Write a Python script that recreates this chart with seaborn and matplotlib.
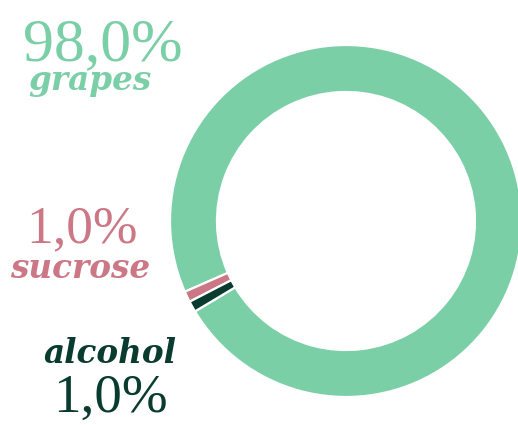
import matplotlib
matplotlib.use("Agg")
import matplotlib.pyplot as plt
import seaborn as sns

sns.set_theme(style="white")

# Composition shares (percent)
categories = ["grapes", "sucrose", "alcohol"]
shares = [98.0, 1.0, 1.0]
pct_labels = ["98,0%", "1,0%", "1,0%"]
colors = ["#7BCFA7", "#CC7785", "#093B2E"]

W, H = 518, 425
fig = plt.figure(figsize=(W / 100, H / 100), dpi=100)
fig.patch.set_facecolor("white")

# Donut axes: centre (346, 221) px, outer radius 176 px
cx, cy, r = 346, 221, 176
ax = fig.add_axes([(cx - r) / W, (H - cy - r) / H, 2 * r / W, 2 * r / H])

wedges, _ = ax.pie(
    shares,
    colors=colors,
    startangle=210.9,
    counterclock=True,
    radius=1.0,
    wedgeprops=dict(width=0.267, edgecolor="white", linewidth=1.6),
)
for w in wedges:
    w.set_clip_on(False)

ax.set_xlim(-1, 1)
ax.set_ylim(-1, 1)
ax.set_aspect("equal")
ax.axis("off")

num_font = dict(family="Liberation Serif", weight="normal")
word_font = dict(family="DejaVu Serif", weight="bold", style="italic")


def px(x, y):
    return x / W, 1 - y / H


# grapes
fig.text(*px(103, 60), pct_labels[0], ha="center", va="baseline",
         fontsize=44.5, color=colors[0], **num_font)
fig.text(*px(90, 90), categories[0], ha="center", va="baseline",
         fontsize=23.5, color=colors[0], **word_font)

# sucrose
fig.text(*px(82, 242), pct_labels[1], ha="center", va="baseline",
         fontsize=38.5, color=colors[1], **num_font)
fig.text(*px(80, 278), categories[1], ha="center", va="baseline",
         fontsize=23.5, color=colors[1], **word_font)

# alcohol
fig.text(*px(110, 363), categories[2], ha="center", va="baseline",
         fontsize=23.5, color=colors[2], **word_font)
fig.text(*px(110, 412), pct_labels[2], ha="center", va="baseline",
         fontsize=39.5, color=colors[2], **num_font)

fig.savefig("out.png", dpi=100, facecolor="white")
